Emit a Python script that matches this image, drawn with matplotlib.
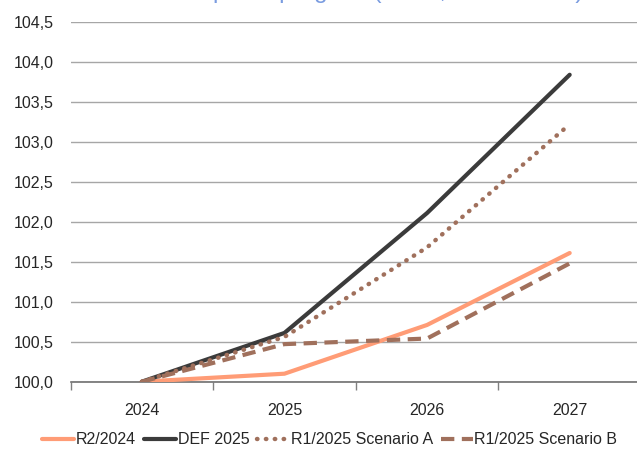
import matplotlib
matplotlib.use("Agg")
import matplotlib.pyplot as plt
from matplotlib.ticker import FixedLocator, FuncFormatter
from matplotlib import font_manager

years = ["2024", "2025", "2026", "2027"]
r2_2024 = [100.0, 100.10, 100.71, 101.61]
def_2025 = [100.0, 100.61, 102.11, 103.84]
r1_a = [100.0, 100.56, 101.68, 103.22]
r1_b = [100.0, 100.47, 100.54, 101.48]
series_names = ["R2/2024", "DEF 2025", "R1/2025 Scenario A", "R1/2025 Scenario B"]
yticks = [100.0, 100.5, 101.0, 101.5, 102.0, 102.5, 103.0, 103.5, 104.0, 104.5]

avail = {f.name for f in font_manager.fontManager.ttflist}
fam = "Liberation Sans Narrow" if "Liberation Sans Narrow" in avail else "Liberation Sans"
plt.rcParams["font.family"] = [fam, "DejaVu Sans"]

fig = plt.figure(figsize=(6.37, 4.55), dpi=100)
W, H = 637, 455
left, right, bottom, top = 70.5, 641, 381.7, 22
ax = fig.add_axes([left / W, 1 - bottom / H, (right - left) / W, (bottom - top) / H])

x = list(range(len(years)))
ax.plot(x, r2_2024, color="#FF9C76", lw=3.0, solid_capstyle="round", label=series_names[0], zorder=3)
ax.plot(x, def_2025, color="#3B3B3B", lw=3.0, solid_capstyle="round", label=series_names[1], zorder=4)
ax.plot(x, r1_a, color="#A0705C", lw=3.2, linestyle=(0, (0.1, 1.9)), dash_capstyle="round",
        label=series_names[2], zorder=5)
ax.plot(x, r1_b, color="#A0705C", lw=3.0, linestyle=(0, (3.2, 1.8)), dash_capstyle="butt",
        label=series_names[3], zorder=5)

ax.set_xlim(-0.5, len(years) - 0.5)
ax.set_ylim(100.0, 104.5)
ax.set_yticks(yticks)
ax.yaxis.set_major_formatter(FuncFormatter(lambda v, p: f"{v:.1f}".replace(".", ",")))
ax.set_xticks(x)
ax.set_xticklabels(years)
ax.xaxis.set_minor_locator(FixedLocator([i - 0.5 for i in range(len(years) + 1)]))
ax.tick_params(axis="x", which="major", length=0, pad=15, labelsize=11.5, colors="#262626")
ax.tick_params(axis="x", which="minor", length=6, width=1, color="#808080", direction="out")
ax.tick_params(axis="y", length=0, pad=12, labelsize=11.5, colors="#262626")
ax.grid(axis="y", color="#A6A6A6", lw=1.0)
ax.set_axisbelow(True)
for s in ["top", "right", "left"]:
    ax.spines[s].set_visible(False)
ax.spines["bottom"].set_color("#707070")
ax.spines["bottom"].set_linewidth(1.2)
ax.spines["bottom"].set_zorder(2)

fig.legend(loc="center", bbox_to_anchor=(330 / W, 1 - 440 / H), ncol=4, frameon=False,
           fontsize=11.5, handlelength=2.0, handletextpad=0.1, columnspacing=0.5,
           labelcolor="#262626")

fig.text(0.06, 1 + 2 / H, "Cenová hladina podle prognóz (index, 2024 = 100)", color="#7A9CE0",
         fontsize=17.5, ha="left", va="baseline")

fig.savefig("out.png", dpi=100)
